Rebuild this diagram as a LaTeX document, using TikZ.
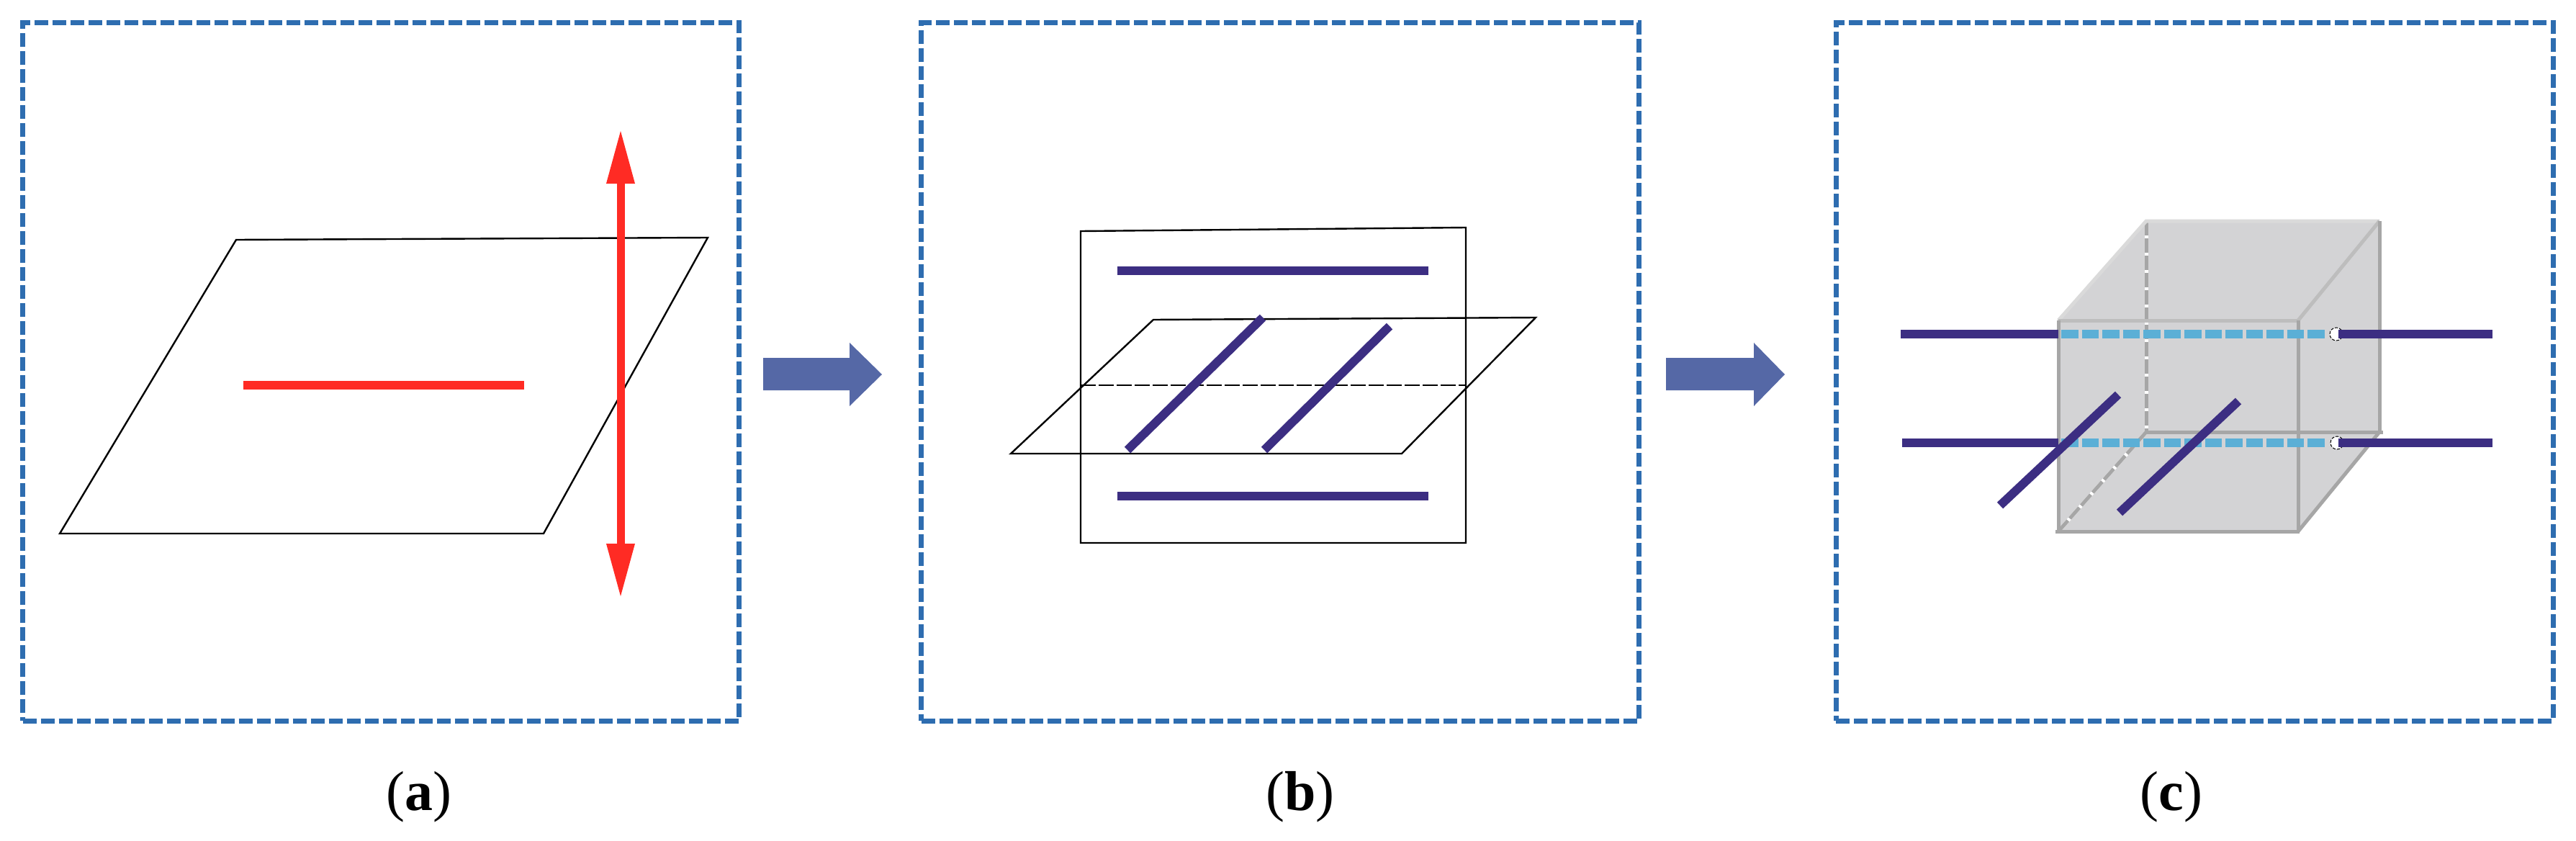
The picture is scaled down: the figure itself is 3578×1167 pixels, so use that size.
\documentclass[tikz,border=0pt]{standalone}
\usepackage{fontspec}
\setmainfont{Liberation Serif}
\definecolor{boxblue}{HTML}{2E6DB0}
\definecolor{darkline}{HTML}{3C2E82}
\definecolor{redline}{HTML}{FF2B24}
\definecolor{arrowblue}{HTML}{5568A6}
\definecolor{cubefill}{HTML}{D3D3D5}
\definecolor{edgegray}{HTML}{A6A6A6}
\definecolor{edgelight}{HTML}{BDBDBD}
\definecolor{edgepale}{HTML}{DADADA}
\definecolor{cyanline}{HTML}{5BAFD6}
\tikzset{
  panelbox/.style={draw=boxblue,line width=7pt,dash pattern=on 19pt off 6pt,fill=white,rectangle,inner sep=0pt,outer sep=0pt},
  thinline/.style={draw=black,line width=2.4pt,line join=miter},
  heavy/.style={draw=darkline,line width=12pt},
  heavydiag/.style={draw=darkline,line width=12pt},
  redstroke/.style={draw=redline},
  blockarrow/.style={fill=arrowblue,draw=none},
  hiddenback/.style={draw=white,line width=5pt},
  hiddenedge/.style={draw=edgegray,line width=5pt,dash pattern=on 20pt off 4pt},
  cubeedge/.style={draw=edgegray,line width=5pt},
  cubeedgelight/.style={draw=edgelight,line width=5pt},
  cubeedgepale/.style={draw=edgepale,line width=5pt},
  cyandash/.style={draw=cyanline,line width=12pt,dash pattern=on 23.5pt off 5pt},
  openend/.style={circle,fill=white,draw=black,line width=1pt,dash pattern=on 4pt off 2pt,minimum size=18pt,inner sep=0pt},
  caption/.style={font=\fontsize{78}{94}\selectfont,inner sep=0pt}
}
\newcommand{\capt}[1]{(\textbf{#1})}
\begin{document}
\begin{tikzpicture}[x=1pt,y=-1pt]
\useasboundingbox[fill=white] (0,0) rectangle (3578,1167);
% panels
\node[panelbox,minimum width=995pt,minimum height=970pt] (pa) at (529,516) {};
\node[panelbox,minimum width=997pt,minimum height=970pt] (pb) at (1778,516) {};
\node[panelbox,minimum width=996pt,minimum height=970pt] (pc) at (3048,516) {};
% block arrows
\fill[blockarrow] (1060,497) -- (1180,497) -- (1180,476) -- (1225,520) -- (1180,564) -- (1180,542) -- (1060,542) -- cycle;
\fill[blockarrow] (2314,497) -- (2436,497) -- (2436,476) -- (2479,520) -- (2436,564) -- (2436,542) -- (2314,542) -- cycle;
% panel a
\draw[thinline] (83,741) -- (755,741) -- (983,330) -- (328,333) -- cycle;
\draw[redstroke,line width=12pt] (338,535) -- (728,535);
\draw[redstroke,line width=11pt] (862,250) -- (862,760);
\fill[redline] (862,182) -- (882,255) -- (842,255) -- cycle;
\fill[redline] (862,828) -- (882,755) -- (842,755) -- cycle;
% panel b
\draw[thinline] (1501,321) -- (2036,316) -- (2036,754) -- (1501,754) -- cycle;
\draw[thinline] (1404,630) -- (1947,630) -- (2133,441) -- (1602,444) -- cycle;
\draw[draw=black,line width=2.4pt,dash pattern=on 21pt off 4pt] (1501,535) -- (2037,535);
\draw[heavy] (1552,376) -- (1984,376);
\draw[heavy] (1552,689) -- (1984,689);
\draw[heavydiag] (1566,625) -- (1754,441);
\draw[heavydiag] (1756,625) -- (1930,453);
% panel c: cube
\fill[cubefill] (2859,445) -- (2981,307) -- (3305,307) -- (3305,600) -- (3192,738) -- (2859,738) -- cycle;
\draw[hiddenback] (2981,307) -- (2981,600);
\draw[hiddenback] (2859,738) -- (2981,600);
\draw[hiddenedge] (2981,307) -- (2981,600);
\draw[hiddenedge] (2859,738) -- (2981,600);
\draw[cubeedgepale] (2859,445) -- (2981,307) -- (3305,307);
\draw[cubeedgelight] (3192,445) -- (3305,307);
\draw[cubeedgelight] (2859,445) -- (3192,445);
\draw[cubeedge] (3305,307) -- (3305,600);
\draw[cubeedge] (2981,600) -- (3310,600);
\draw[cubeedge] (3192,738) -- (3305,600);
\draw[cubeedge] (3192,445) -- (3192,738);
\draw[cubeedge] (2859,445) -- (2859,738);
\draw[cubeedge] (2855,738) -- (3194,738);
\draw[cyandash] (2863,464) -- (3233,464);
\draw[cyandash] (2863,615) -- (3233,615);
\node[openend] (ca) at (3245,464) {};
\node[openend] (cb) at (3246,615) {};
\draw[heavy] (2640,464) -- (2859,464);
\draw[heavy] (ca.center) ++(3,0) -- (3462,464);
\draw[heavy] (2642,615) -- (2859,615);
\draw[heavy] (cb.center) ++(2,0) -- (3462,615);
\draw[heavydiag] (2778,702) -- (2942,548);
\draw[heavydiag] (2944,712) -- (3109,557);
% captions
\node[caption] (la) at (582,1107) {\capt{a}};
\node[caption] (lb) at (1806,1107) {\capt{b}};
\node[caption] (lc) at (3016,1107) {\capt{c}};
\end{tikzpicture}
\end{document}
